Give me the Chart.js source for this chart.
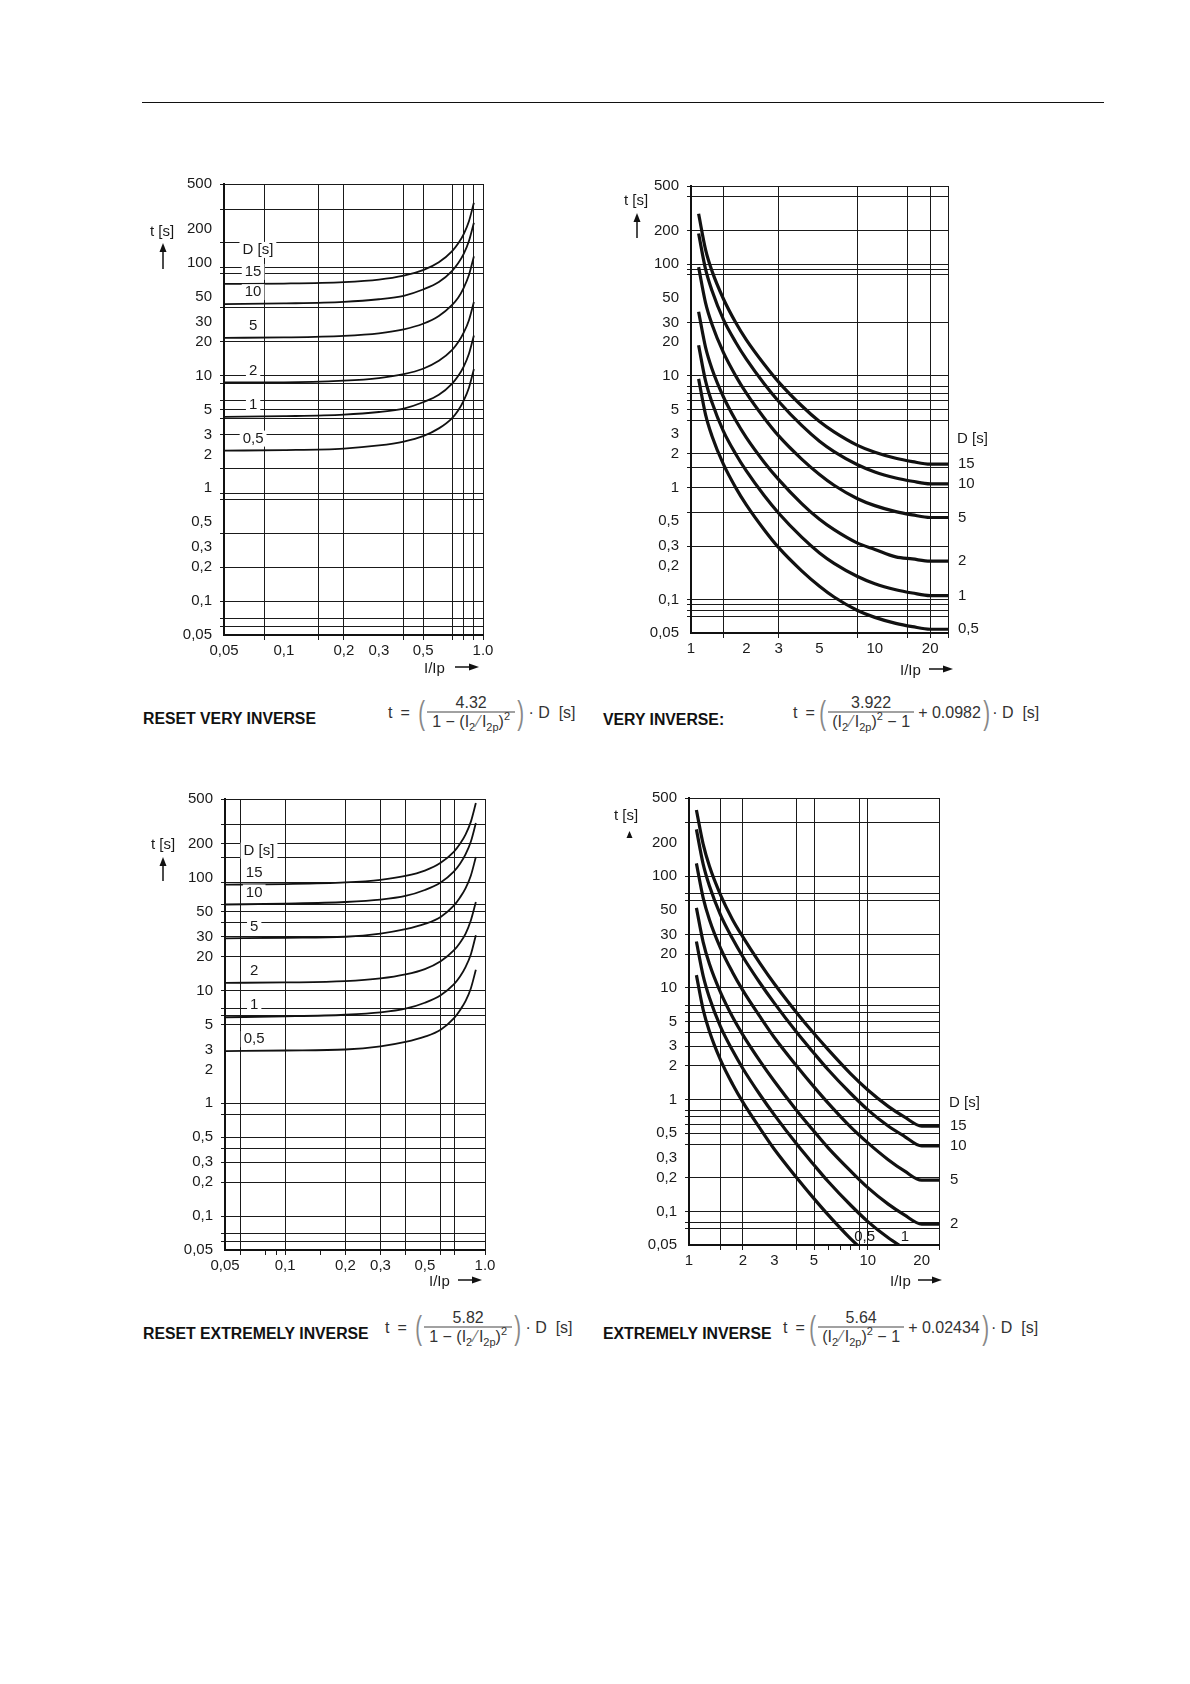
<!DOCTYPE html>
<html>
<head>
<meta charset="utf-8">
<script src="https://cdn.jsdelivr.net/npm/chart.js@4.4.0/dist/chart.umd.min.js"></script>
<style>
  html, body { margin: 0; padding: 0; background: #fff; }
  body { width: 1190px; height: 1684px; position: relative; font-family: "Liberation Sans", Arial, sans-serif; color: #1a1a1a; }
  .abs { position: absolute; }
  canvas { position: absolute; }
  .rule { left: 142px; top: 102px; width: 962px; border-top: 1.5px solid #111; }
  .title { font-weight: bold; font-size: 15.8px; color: #111; white-space: nowrap; line-height: 1; transform: translateY(-50%); }
  .lbl { font-size: 15px; white-space: nowrap; line-height: 1; transform: translateY(-50%); }
  .formula { display: flex; align-items: center; font-size: 16px; color: #333; white-space: nowrap; transform: translateY(-50%); }
  .frac { display: inline-flex; flex-direction: column; align-items: stretch; }
  .frac span { display: block; height: 18px; line-height: 18px; text-align: center; }
  .frac .num { border-bottom: 1px solid #444; }
  .frac sub, .frac sup { font-size: 11px; line-height: 0; }
  .frac i { font-style: normal; color: #777; margin: 0 2px; }
  .par { font-size: 34px; font-weight: 300; color: #888; transform: scaleX(0.6); display: inline-block; }
</style>
</head>
<body>
<div class="abs rule"></div>

<canvas id="c1" width="359" height="496" style="left:144px;top:167px"></canvas>
<canvas id="c2" width="387" height="492" style="left:611px;top:169px"></canvas>
<canvas id="c3" width="360" height="496" style="left:145px;top:782px"></canvas>
<canvas id="c4" width="380" height="492" style="left:609px;top:781px"></canvas>

<!-- axis captions -->
<div class="abs lbl" style="left:150px;top:230px">t [s]</div>
<svg class="abs" style="left:158px;top:243px" width="10" height="26"><line x1="5" y1="26" x2="5" y2="6" stroke="#111" stroke-width="1.5"/><polygon points="1.5,9 5,0 8.5,9" fill="#111"/></svg>
<div class="abs lbl" style="left:424px;top:667px">I/Ip</div>
<svg class="abs" style="left:455px;top:662px" width="24" height="10"><line x1="0" y1="5" x2="16" y2="5" stroke="#111" stroke-width="1.5"/><polygon points="14,1.5 24,5 14,8.5" fill="#111"/></svg>

<div class="abs lbl" style="left:624px;top:199px">t [s]</div>
<svg class="abs" style="left:632px;top:213px" width="10" height="25"><line x1="5" y1="25" x2="5" y2="6" stroke="#111" stroke-width="1.5"/><polygon points="1.5,9 5,0 8.5,9" fill="#111"/></svg>
<div class="abs lbl" style="left:900px;top:669px">I/Ip</div>
<svg class="abs" style="left:929px;top:664px" width="24" height="10"><line x1="0" y1="5" x2="16" y2="5" stroke="#111" stroke-width="1.5"/><polygon points="14,1.5 24,5 14,8.5" fill="#111"/></svg>

<div class="abs lbl" style="left:151px;top:843px">t [s]</div>
<svg class="abs" style="left:158px;top:857px" width="10" height="24"><line x1="5" y1="24" x2="5" y2="6" stroke="#111" stroke-width="1.5"/><polygon points="1.5,9 5,0 8.5,9" fill="#111"/></svg>
<div class="abs lbl" style="left:429px;top:1280px">I/Ip</div>
<svg class="abs" style="left:458px;top:1275px" width="24" height="10"><line x1="0" y1="5" x2="16" y2="5" stroke="#111" stroke-width="1.5"/><polygon points="14,1.5 24,5 14,8.5" fill="#111"/></svg>

<div class="abs lbl" style="left:614px;top:814px">t [s]</div>
<svg class="abs" style="left:626px;top:831px" width="7" height="7"><polygon points="0.5,7 3.5,0 6.5,7" fill="#111"/></svg>
<div class="abs lbl" style="left:890px;top:1280px">I/Ip</div>
<svg class="abs" style="left:918px;top:1275px" width="24" height="10"><line x1="0" y1="5" x2="16" y2="5" stroke="#111" stroke-width="1.5"/><polygon points="14,1.5 24,5 14,8.5" fill="#111"/></svg>

<!-- titles and formulas -->
<div class="abs title" style="left:143px;top:719px">RESET VERY INVERSE</div>
<div class="abs formula" style="left:388px;top:712px">
  <span style="margin-right:8px">t</span><span style="margin-right:6px">=</span><span class="par">(</span>
  <span class="frac" style="width:88px"><span class="num">4.32</span><span class="den">1 − (I<sub>2</sub><i>⁄</i>I<sub>2p</sub>)<sup>2</sup></span></span>
  <span class="par">)</span><span style="margin-left:2px">·&nbsp;D&nbsp;&nbsp;[s]</span>
</div>

<div class="abs title" style="left:603px;top:720px">VERY INVERSE:</div>
<div class="abs formula" style="left:793px;top:712px">
  <span style="margin-right:8px">t</span><span style="margin-right:2px">=</span><span class="par">(</span>
  <span class="frac" style="width:86px"><span class="num">3.922</span><span class="den">(I<sub>2</sub><i>⁄</i>I<sub>2p</sub>)<sup>2</sup> − 1</span></span>
  <span style="margin-left:4px">+ 0.0982</span><span class="par">)</span><span>·&nbsp;D&nbsp;&nbsp;[s]</span>
</div>

<div class="abs title" style="left:143px;top:1334px">RESET EXTREMELY INVERSE</div>
<div class="abs formula" style="left:385px;top:1327px">
  <span style="margin-right:8px">t</span><span style="margin-right:6px">=</span><span class="par">(</span>
  <span class="frac" style="width:88px"><span class="num">5.82</span><span class="den">1 − (I<sub>2</sub><i>⁄</i>I<sub>2p</sub>)<sup>2</sup></span></span>
  <span class="par">)</span><span style="margin-left:2px">·&nbsp;D&nbsp;&nbsp;[s]</span>
</div>

<div class="abs title" style="left:603px;top:1334px">EXTREMELY INVERSE</div>
<div class="abs formula" style="left:783px;top:1327px">
  <span style="margin-right:8px">t</span><span style="margin-right:2px">=</span><span class="par">(</span>
  <span class="frac" style="width:86px"><span class="num">5.64</span><span class="den">(I<sub>2</sub><i>⁄</i>I<sub>2p</sub>)<sup>2</sup> − 1</span></span>
  <span style="margin-left:4px">+ 0.02434</span><span class="par">)</span><span>·&nbsp;D&nbsp;&nbsp;[s]</span>
</div>

<script>
// ---- data (t in seconds), one array per D setting ----
const dNames = ['15', '10', '5', '2', '1', '0,5'];

// reset very inverse, x = I/Ip
const rviX = [0.05, 0.1, 0.2, 0.3, 0.4, 0.5, 0.6, 0.7, 0.75, 0.8, 0.85, 0.9];
const rviD15 = [65, 65.5, 67.5, 71, 77, 86, 101, 127, 148, 180, 234, 341];
const rviD10 = [43, 43.6, 45, 47.5, 51, 58, 67.5, 85, 99, 120, 156, 227];
const rviD5 = [21.6, 21.8, 22.5, 23.7, 25.7, 28.8, 33.8, 42.4, 49, 60, 78, 114];
const rviD2 = [8.7, 8.7, 9.0, 9.5, 10.3, 11.5, 13.5, 16.9, 19.7, 24, 31, 45];
const rviD1 = [4.3, 4.36, 4.5, 4.75, 5.1, 5.8, 6.75, 8.5, 9.9, 12, 15.6, 22.7];
const rviD05 = [2.16, 2.18, 2.25, 2.4, 2.6, 2.9, 3.4, 4.2, 4.9, 6, 7.8, 11.4];

// very inverse, x = I/Ip
const viX = [1.1, 1.2, 1.3, 1.5, 1.75, 2, 2.5, 3, 4, 5, 6, 8, 10, 13, 16, 20, 25];
const viD15 = [282, 135, 87, 49, 30, 21, 12.7, 8.8, 5.4, 3.9, 3.15, 2.4, 2.07, 1.83, 1.71, 1.62, 1.62];
const viD10 = [188, 90, 58, 32, 20, 14.1, 8.5, 5.9, 3.6, 2.6, 2.1, 1.61, 1.38, 1.22, 1.14, 1.08, 1.08];
const viD5 = [94, 45, 29, 16.2, 10, 7.0, 4.2, 2.9, 1.8, 1.31, 1.05, 0.80, 0.69, 0.61, 0.57, 0.54, 0.54];
const viD2 = [37.5, 18, 11.6, 6.5, 4.0, 2.8, 1.69, 1.18, 0.72, 0.52, 0.42, 0.32, 0.28, 0.24, 0.23, 0.22, 0.22];
const viD1 = [18.8, 9.0, 5.8, 3.2, 2.0, 1.41, 0.85, 0.59, 0.36, 0.26, 0.21, 0.161, 0.138, 0.122, 0.114, 0.108, 0.108];
const viD05 = [9.4, 4.5, 2.9, 1.62, 1.0, 0.70, 0.42, 0.29, 0.18, 0.131, 0.105, 0.080, 0.069, 0.061, 0.057, 0.054, 0.054];

// reset extremely inverse
const reiX = [0.05, 0.1, 0.2, 0.3, 0.4, 0.5, 0.6, 0.7, 0.75, 0.8, 0.85, 0.9];
const reiD15 = [87, 88, 91, 96, 104, 116, 136, 171, 200, 243, 315, 460];
const reiD10 = [58, 59, 61, 64, 69, 78, 91, 114, 133, 162, 210, 306];
const reiD5 = [29, 29.4, 30, 32, 35, 39, 45, 57, 67, 81, 105, 153];
const reiD2 = [11.7, 11.8, 12.1, 12.8, 13.9, 15.5, 18.2, 22.8, 26.6, 32, 42, 61];
const reiD1 = [5.8, 5.9, 6.1, 6.4, 6.9, 7.8, 9.1, 11.4, 13.3, 16.2, 21, 31];
const reiD05 = [2.9, 2.94, 3.0, 3.2, 3.5, 3.9, 4.5, 5.7, 6.7, 8.1, 10.5, 15.3];

// extremely inverse
const eiX = [1.1, 1.2, 1.3, 1.5, 1.75, 2, 2.5, 3, 4, 5, 6, 8, 10, 13, 16, 20, 25];
const eiD15 = [390, 193, 123, 68, 41, 28.6, 16.5, 10.9, 6.0, 3.9, 2.8, 1.71, 1.22, 0.87, 0.70, 0.58, 0.58];
const eiD10 = [262, 128, 82, 45, 27.6, 19, 11, 7.3, 4.0, 2.6, 1.85, 1.14, 0.81, 0.58, 0.47, 0.385, 0.385];
const eiD5 = [130, 64, 41, 22.7, 13.8, 9.5, 5.5, 3.6, 2.0, 1.3, 0.93, 0.57, 0.41, 0.29, 0.23, 0.19, 0.19];
const eiD2 = [52, 25.7, 16.4, 9.1, 5.5, 3.8, 2.2, 1.46, 0.80, 0.52, 0.37, 0.23, 0.163, 0.116, 0.093, 0.077, 0.077];
const eiD1 = [26, 12.8, 8.2, 4.5, 2.76, 1.9, 1.1, 0.73, 0.40, 0.26, 0.185, 0.114, 0.081, 0.058, 0.0465];
const eiD05 = [13, 6.4, 4.1, 2.27, 1.38, 0.95, 0.55, 0.36, 0.20, 0.13, 0.093, 0.057, 0.041];

// ---- tick labels ----
const yTickVals = [500, 200, 100, 50, 30, 20, 10, 5, 3, 2, 1, 0.5, 0.3, 0.2, 0.1, 0.05];
const yTickText = ['500', '200', '100', '50', '30', '20', '10', '5', '3', '2', '1', '0,5', '0,3', '0,2', '0,1', '0,05'];
const resetXVals = [0.05, 0.1, 0.2, 0.3, 0.5, 1];
const resetXText = ['0,05', '0,1', '0,2', '0,3', '0,5', '1.0'];
const invXVals = [1, 2, 3, 5, 10, 20];
const invXText = ['1', '2', '3', '5', '10', '20'];

// ---- grid lines as printed (irregular on the original sheet) ----
const rviXGrid = [0.08, 0.15, 0.2, 0.4, 0.5, 0.7, 0.8, 0.9, 1];
const rviYGrid = [500, 300, 150, 90, 80, 40, 20, 10, 8.5, 6, 5, 4.2, 3, 1.5, 0.9, 0.8, 0.4, 0.2, 0.1, 0.07, 0.06];
const viXGrid = [1.5, 3, 8, 15, 20, 25];
const viYGrid = [500, 400, 200, 100, 90, 80, 30, 10, 8, 7, 6, 5, 4, 2, 1.5, 1, 0.6, 0.3, 0.1, 0.09, 0.08, 0.07];
const reiXGrid = [0.06, 0.1, 0.2, 0.3, 0.4, 0.6, 0.7, 1];
const reiXMinor = [0.08, 0.09, 0.15];
const reiYGrid = [500, 300, 200, 150, 90, 58, 50, 40, 30, 20, 10, 7, 6, 5, 1, 0.8, 0.5, 0.4, 0.3, 0.2, 0.1, 0.07, 0.06];
const eiXGrid = [1.5, 2, 4, 5, 9, 10, 25];
const eiXMinor = [6, 7, 8];
const eiYGrid = [500, 300, 100, 70, 60, 30, 20, 10, 7, 6, 5, 4, 3, 2, 1, 0.8, 0.7, 0.6, 0.5, 0.4, 0.2, 0.1, 0.08, 0.07];

const FONT = '"Liberation Sans", Arial, sans-serif';
const INK = '#1a1a1a';

function same(a, b) { return Math.abs(Math.log10(a / b)) < 1e-6; }
function has(list, v) { return list.some(g => same(g, v)); }
function merge(...lists) {
  const out = [];
  lists.flat().forEach(v => { if (!has(out, v)) out.push(v); });
  return out.sort((a, b) => a - b);
}

const curveLabels = {
  id: 'curveLabels',
  afterDatasetsDraw(chart, args, opts) {
    const ctx = chart.ctx, x = chart.scales.x, y = chart.scales.y, area = chart.chartArea;
    ctx.save();
    ctx.font = '15px ' + FONT;
    ctx.textBaseline = 'middle';
    (opts.items || []).forEach(it => {
      const px = it.right ? area.right + it.dx : x.getPixelForValue(it.x);
      const py = y.getPixelForValue(it.y) + (it.dy || 0);
      ctx.textAlign = it.right ? 'left' : 'center';
      const w = ctx.measureText(it.text).width;
      if (it.bg) {
        ctx.fillStyle = '#fff';
        ctx.fillRect(px - w / 2 - 3, py - 8, w + 6, 16);
      }
      ctx.fillStyle = INK;
      ctx.fillText(it.text, px, py);
    });
    ctx.restore();
  }
};

function makeChart(id, c) {
  const datasets = c.series.map(s => ({
    data: s.map((v, i) => ({ x: c.xs[i], y: v })),
    showLine: true,
    borderColor: '#111',
    borderWidth: c.lw,
    pointRadius: 0,
    cubicInterpolationMode: 'monotone',
    borderCapStyle: 'butt'
  }));
  const xAll = merge(c.xVals, c.xGrid, c.xMinor || []);
  const yAll = merge(yTickVals, c.yGrid);
  const gridCol = list => ctx => (ctx.tick && has(list, ctx.tick.value)) ? INK : 'rgba(0,0,0,0)';
  return new Chart(document.getElementById(id), {
    type: 'scatter',
    data: { datasets },
    options: {
      responsive: false,
      animation: false,
      events: [],
      layout: { padding: { top: 14, right: c.padR, left: 0, bottom: 0 } },
      plugins: { legend: { display: false }, tooltip: { enabled: false }, curveLabels: { items: c.items } },
      scales: {
        x: {
          type: 'logarithmic', min: c.xMin, max: c.xMax,
          afterBuildTicks: s => { s.ticks = xAll.map(v => ({ value: v })); },
          afterFit: s => { s.height = 28; },
          ticks: {
            autoSkip: false, maxRotation: 0, minRotation: 0, padding: 2, color: INK,
            font: { family: FONT, size: 15 },
            callback: v => { const i = c.xVals.findIndex(t => same(t, v)); return i < 0 ? '' : c.xText[i]; }
          },
          grid: {
            color: gridCol(c.xGrid),
            tickColor: gridCol(c.xGrid.concat(c.xMinor || [])),
            lineWidth: 1, tickLength: 5
          },
          border: { display: true, color: '#111', width: 2 }
        },
        y: {
          type: 'logarithmic', min: 0.05, max: 500,
          afterBuildTicks: s => { s.ticks = yAll.map(v => ({ value: v })); },
          afterFit: s => { s.width = 80; },
          ticks: {
            autoSkip: false, padding: 8, color: INK,
            font: { family: FONT, size: 15 },
            callback: v => { const i = yTickVals.findIndex(t => same(t, v)); return i < 0 ? '' : yTickText[i]; }
          },
          grid: { color: gridCol(c.yGrid), tickColor: gridCol(c.yGrid), lineWidth: 1, tickLength: 4 },
          border: { display: true, color: '#111', width: 2 }
        }
      }
    },
    plugins: [curveLabels]
  });
}

function leftItems(series) {
  const items = series.map((s, i) => ({ text: dNames[i], x: 0.07, y: s[0], dy: -12, bg: true }));
  items.push({ text: 'D [s]', x: 0.074, y: series[0][0], dy: -34, bg: true });
  return items;
}
function rightItems(series, n, dx, dDy) {
  const items = series.slice(0, n).map((s, i) => ({ text: dNames[i], right: true, dx: dx, y: s[s.length - 1], dy: 0 }));
  items.push({ text: 'D [s]', right: true, dx: dx - 1, y: series[0][series[0].length - 1], dy: dDy });
  return items;
}

const rviSeries = [rviD15, rviD10, rviD5, rviD2, rviD1, rviD05];
const viSeries = [viD15, viD10, viD5, viD2, viD1, viD05];
const reiSeries = [reiD15, reiD10, reiD5, reiD2, reiD1, reiD05];
const eiSeries = [eiD15, eiD10, eiD5, eiD2, eiD1, eiD05];

makeChart('c1', {
  xs: rviX, series: rviSeries, lw: 1.8, xMin: 0.05, xMax: 1, padR: 20,
  xVals: resetXVals, xText: resetXText, xGrid: rviXGrid, yGrid: rviYGrid,
  items: leftItems(rviSeries)
});
makeChart('c2', {
  xs: viX, series: viSeries, lw: 3.2, xMin: 1, xMax: 25, padR: 50,
  xVals: invXVals, xText: invXText, xGrid: viXGrid, yGrid: viYGrid,
  items: rightItems(viSeries, 6, 10, -25)
});
makeChart('c3', {
  xs: reiX, series: reiSeries, lw: 1.8, xMin: 0.05, xMax: 1, padR: 20,
  xVals: resetXVals, xText: resetXText, xGrid: reiXGrid, xMinor: reiXMinor, yGrid: reiYGrid,
  items: leftItems(reiSeries)
});
makeChart('c4', {
  xs: eiX, series: eiSeries, lw: 3.2, xMin: 1, xMax: 25, padR: 50,
  xVals: invXVals, xText: invXText, xGrid: eiXGrid, xMinor: eiXMinor, yGrid: eiYGrid,
  items: rightItems(eiSeries, 4, 11, -23).concat([
    { text: '0,5', x: 9.6, y: 0.059 },
    { text: '1', x: 16.1, y: 0.059 }
  ])
});
</script>
</body>
</html>
